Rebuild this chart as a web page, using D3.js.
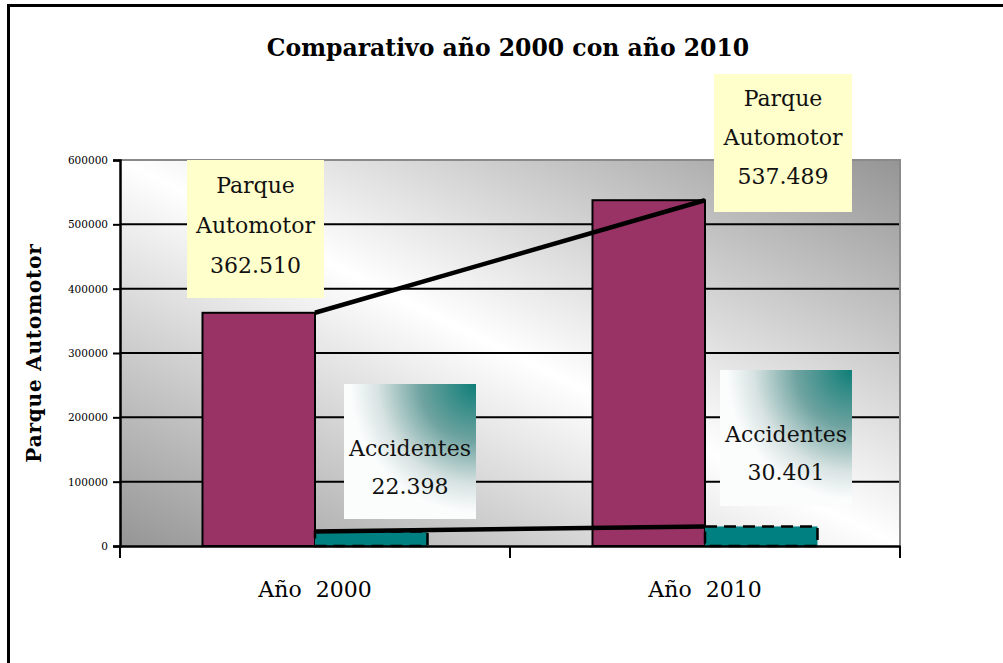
<!DOCTYPE html>
<html>
<head>
<meta charset="utf-8">
<script src="https://cdn.jsdelivr.net/npm/d3@7"></script>
<style>
  body { margin: 0; background: #fff; }
  svg { display: block; }
</style>
</head>
<body>
<svg width="1003" height="663"></svg>
<script>
// Data
let categories = ["Año  2000", "Año  2010"];
let series = ["parque", "accidentes"];
let parque = [362510, 537489];
let accidentes = [22398, 30401];
let yTicks = [0, 100000, 200000, 300000, 400000, 500000, 600000];
let title = "Comparativo año 2000 con año 2010";
let yTitle = "Parque Automotor";

let svg = d3.select("svg");
let serif = "'DejaVu Serif', serif";

// number format with "." as thousands separator
let es = d3.formatLocale({ decimal: ",", thousands: ".", grouping: [3], currency: ["", ""] });
let fmt = es.format(",d");

// plot area
let plot = { left: 120, right: 900, top: 160, bottom: 546 };

let x = d3.scaleBand().domain(categories).range([plot.left, plot.right]);
let xSub = d3.scaleBand().domain(series).range([0, x.bandwidth()]).paddingOuter(0.7333);
let y = d3.scaleLinear().domain([0, 600000]).range([plot.bottom, plot.top]);

let defs = svg.append("defs");

// plot background: light along the diagonal, grey in the corners
let bg = defs.append("linearGradient").attr("id", "bgGrad")
  .attr("x1", 1).attr("y1", 0).attr("x2", 0).attr("y2", 1);
bg.append("stop").attr("offset", 0).attr("stop-color", "#959595");
bg.append("stop").attr("offset", 0.5).attr("stop-color", "#ffffff");
bg.append("stop").attr("offset", 1).attr("stop-color", "#959595");

// teal note boxes
let tg = defs.append("radialGradient").attr("id", "tealGrad")
  .attr("cx", 1).attr("cy", 0).attr("r", 1).attr("fx", 1).attr("fy", 0);
tg.append("stop").attr("offset", 0).attr("stop-color", "#0f7e78");
tg.append("stop").attr("offset", 0.42).attr("stop-color", "#6ea3a0");
tg.append("stop").attr("offset", 0.74).attr("stop-color", "#d6e2e1");
tg.append("stop").attr("offset", 0.95).attr("stop-color", "#fbfdfd");

// outer frame (runs off the right and bottom edge)
svg.append("rect")
  .attr("x", 8.5).attr("y", 5.5).attr("width", 1100).attr("height", 800)
  .attr("fill", "none").attr("stroke", "#000").attr("stroke-width", 3);

// title
svg.append("text")
  .attr("x", 508).attr("y", 56)
  .attr("text-anchor", "middle")
  .style("font-family", serif).style("font-weight", "bold").style("font-size", "23.5px")
  .text(title);

// background
svg.append("rect")
  .attr("x", plot.left).attr("y", plot.top)
  .attr("width", plot.right - plot.left).attr("height", plot.bottom - plot.top)
  .attr("fill", "url(#bgGrad)");

// gridlines
svg.append("g").selectAll("line")
  .data(yTicks.filter(d => d > 0 && d < 600000))
  .enter().append("line")
  .attr("x1", plot.left).attr("x2", plot.right)
  .attr("y1", d => y(d)).attr("y2", d => y(d))
  .attr("stroke", "#000").attr("stroke-width", 2);

// grey border top and right
svg.append("path")
  .attr("d", `M${plot.left},${plot.top}H${plot.right}V${plot.bottom}`)
  .attr("fill", "none").attr("stroke", "#8a8a8a").attr("stroke-width", 2);

// bars
let groups = svg.append("g").selectAll("g")
  .data(categories)
  .enter().append("g")
  .attr("transform", d => "translate(" + x(d) + ",0)");

groups.append("rect")
  .attr("x", xSub("parque"))
  .attr("y", (d, i) => y(parque[i]))
  .attr("width", xSub.bandwidth())
  .attr("height", (d, i) => y(0) - y(parque[i]))
  .attr("fill", "#993366")
  .attr("stroke", "#000").attr("stroke-width", 2);

groups.append("rect")
  .attr("x", xSub("accidentes"))
  .attr("y", (d, i) => y(accidentes[i]))
  .attr("width", xSub.bandwidth())
  .attr("height", (d, i) => y(0) - y(accidentes[i]))
  .attr("fill", "#008080")
  .attr("stroke", "#000").attr("stroke-width", 2.5)
  .attr("stroke-dasharray", "12,7");

// trend lines from the top of each purple bar
let edge = d => x(d) + xSub("parque") + xSub.bandwidth();
let line = d3.line().x(d => edge(d[0])).y(d => y(d[1]));

svg.append("path")
  .datum(categories.map((c, i) => [c, parque[i]]))
  .attr("d", line)
  .attr("fill", "none").attr("stroke", "#000").attr("stroke-width", 4.5);

svg.append("path")
  .datum(categories.map((c, i) => [c, accidentes[i]]))
  .attr("d", line)
  .attr("fill", "none").attr("stroke", "#000").attr("stroke-width", 4.5);

// y axis
let yAxis = svg.append("g")
  .attr("transform", "translate(" + plot.left + ",0)")
  .call(d3.axisLeft(y).tickValues(yTicks).tickSize(7).tickPadding(5).tickFormat(d3.format("d")));
yAxis.select(".domain").attr("stroke-width", 2.5);
yAxis.selectAll(".tick line").attr("stroke-width", 2);
yAxis.selectAll("text")
  .style("font-family", serif).style("font-size", "10.5px").attr("fill", "#000");

// x axis
let xAxis = svg.append("g")
  .attr("transform", "translate(0," + plot.bottom + ")")
  .call(d3.axisBottom(x).tickSize(0).tickPadding(0));
xAxis.select(".domain").attr("stroke-width", 2.5);
xAxis.selectAll("text")
  .attr("y", 51).attr("dy", null)
  .style("font-family", serif).style("font-size", "22px")
  .style("white-space", "pre").attr("fill", "#000");

// boundary ticks between categories
svg.append("g").selectAll("line")
  .data(categories.map(c => x(c)).concat([x.range()[1]]))
  .enter().append("line")
  .attr("x1", d => d).attr("x2", d => d)
  .attr("y1", plot.bottom).attr("y2", plot.bottom + 12)
  .attr("stroke", "#000").attr("stroke-width", 2);

// y axis title
svg.append("text")
  .attr("transform", "translate(41,353) rotate(-90)")
  .attr("text-anchor", "middle")
  .style("font-family", serif).style("font-weight", "bold").style("font-size", "20px")
  .style("letter-spacing", "0.8px")
  .text(yTitle);

// note boxes
let notes = [
  { box: [187, 160, 137, 138], fill: "#ffffcc", lines: ["Parque", "Automotor", fmt(parque[0])], base: 193, step: 40 },
  { box: [714, 74, 138, 138], fill: "#ffffcc", lines: ["Parque", "Automotor", fmt(parque[1])], base: 106, step: 39 },
  { box: [344, 384, 132, 135], fill: "url(#tealGrad)", lines: ["Accidentes", fmt(accidentes[0])], base: 456, step: 38 },
  { box: [720, 370, 132, 136], fill: "url(#tealGrad)", lines: ["Accidentes", fmt(accidentes[1])], base: 442, step: 38 }
];

notes.forEach(n => {
  let g = svg.append("g");
  g.append("rect")
    .attr("x", n.box[0]).attr("y", n.box[1])
    .attr("width", n.box[2]).attr("height", n.box[3])
    .attr("fill", n.fill);
  g.selectAll("text")
    .data(n.lines)
    .enter().append("text")
    .attr("x", n.box[0] + n.box[2] / 2)
    .attr("y", (d, i) => n.base + i * n.step)
    .attr("text-anchor", "middle")
    .style("font-family", serif).style("font-size", "22px")
    .attr("fill", "#111")
    .text(d => d);
});
</script>
</body>
</html>
